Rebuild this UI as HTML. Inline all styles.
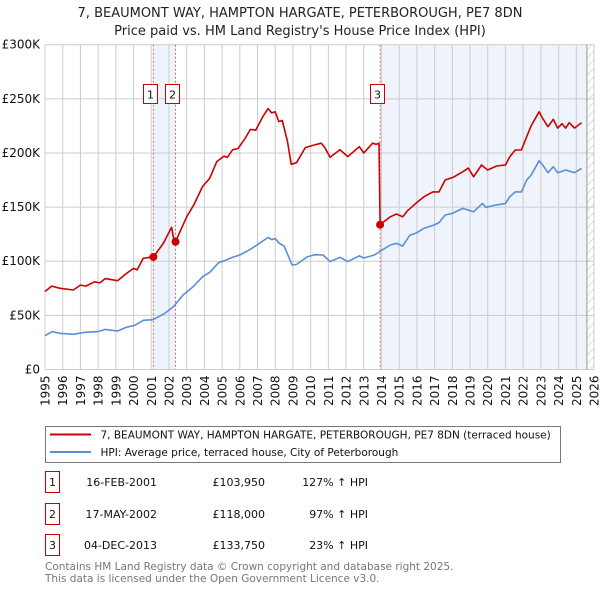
<!DOCTYPE html>
<html><head><meta charset="utf-8">
<style>
body{margin:0;background:#fff;width:600px;height:590px;overflow:hidden;font-family:"DejaVu Sans","Liberation Sans",sans-serif;}
svg{position:absolute;left:0;top:0}
text{font-family:"DejaVu Sans","Liberation Sans",sans-serif;}
</style></head><body>
<svg id="chart" width="600" height="590" xmlns="http://www.w3.org/2000/svg">
<defs>
<pattern id="hatch" width="6" height="6" patternUnits="userSpaceOnUse" patternTransform="rotate(45)">
<line x1="0" y1="0" x2="0" y2="6" stroke="#bbb" stroke-width="1"/>
</pattern>
</defs>
<text x="300" y="17" text-anchor="middle" font-size="13" fill="#222">7, BEAUMONT WAY, HAMPTON HARGATE, PETERBOROUGH, PE7 8DN</text>
<text x="300" y="35" text-anchor="middle" font-size="13" fill="#222">Price paid vs. HM Land Registry's House Price Index (HPI)</text>
<g id="plot"></g>
<g>
<rect x="45.5" y="426.5" width="515" height="36" fill="#fff" stroke="#777"/>
<line x1="50" y1="434.5" x2="91" y2="434.5" stroke="#cc0000" stroke-width="2"/>
<text x="100.5" y="438.5" font-size="10.5" fill="#111">7, BEAUMONT WAY, HAMPTON HARGATE, PETERBOROUGH, PE7 8DN (terraced house)</text>
<line x1="50" y1="452" x2="91" y2="452" stroke="#5b8fd4" stroke-width="2"/>
<text x="100.5" y="456" font-size="10.5" fill="#111">HPI: Average price, terraced house, City of Peterborough</text>
</g>
<g id="table" font-size="11" fill="#111"></g>
<text x="45" y="570" font-size="10.5" fill="#777">Contains HM Land Registry data © Crown copyright and database right 2025.</text>
<text x="45" y="582" font-size="10.5" fill="#777">This data is licensed under the Open Government Licence v3.0.</text>
</svg>
<script>
const propYears=[1995.0,1995.38,1995.85,1996.6,1997.0,1997.3,1997.8,1998.1,1998.4,1999.1,1999.6,2000.0,2000.2,2000.55,2000.93,2001.12,2001.68,2002.15,2002.25,2002.37,2003.0,2003.4,2003.9,2004.3,2004.7,2005.1,2005.3,2005.6,2005.9,2006.3,2006.6,2006.9,2007.3,2007.6,2007.8,2008.0,2008.2,2008.4,2008.7,2008.9,2009.2,2009.7,2010.2,2010.6,2010.8,2011.1,2011.65,2012.1,2012.75,2013.0,2013.5,2013.7,2013.86,2013.92,2014.5,2014.85,2015.2,2015.5,2015.98,2016.4,2016.9,2017.25,2017.6,2018.05,2018.6,2018.9,2019.2,2019.65,2020.0,2020.5,2021.0,2021.25,2021.55,2021.9,2022.2,2022.45,2022.9,2023.1,2023.4,2023.7,2023.95,2024.2,2024.4,2024.6,2024.9,2025.3];
const propValues=[72,77,75,73.4,78,77,81,80,84,82,88.8,93.4,92,102.7,103.6,103.95,116.5,131.3,122,118,141,152,169,176.6,192,197,196,203,204,213.5,221.8,221,233.5,241,237,238,229,230,210,189.5,191,205,207.4,209,205,196,203,196.6,205.8,200,209,208,209,133.75,141,143.6,141,147,154,159.6,164,164,175,177.5,182.7,186,178,188.9,184.3,188,189,196.6,202.7,202.7,215,225,238,232,224.3,231,223,227,223,228,223,228];
const hpiYears=[1995.0,1995.4,1995.85,1996.6,1997.2,1998.0,1998.4,1999.1,1999.6,2000.1,2000.55,2001.1,2001.7,2002.25,2002.8,2003.4,2003.9,2004.3,2004.8,2005.2,2005.6,2006.0,2006.6,2007.1,2007.6,2007.8,2008.0,2008.2,2008.5,2008.95,2009.2,2009.8,2010.25,2010.7,2011.1,2011.65,2012.1,2012.75,2013.0,2013.6,2013.9,2014.5,2014.85,2015.2,2015.6,2016.0,2016.4,2016.97,2017.25,2017.6,2018.0,2018.6,2019.2,2019.7,2019.9,2020.5,2021.0,2021.25,2021.55,2021.9,2022.2,2022.45,2022.9,2023.1,2023.4,2023.7,2023.95,2024.4,2024.9,2025.3];
const hpiValues=[31.2,35,33.4,32.5,34.3,35,37,35.6,39,41,45.4,46,51.2,58,68.8,77,85.7,89.7,98.6,101,103.6,105.8,111,116.5,122,120,121,116.8,114,96.5,97,104,106,105.8,99.7,103.6,99.7,105,103,105.8,109,115,116.5,114,124,126.4,130.4,133.5,135.7,142.7,144.2,148.8,145.7,153.4,149.8,152,153.4,159.6,164,164,175,179.5,192.8,189,181.8,187.3,181.8,184.3,181.8,185.7];
const saleYears=[2001.12,2002.37,2013.92];
const salePrices=[103.95,118,133.75];
const saleLabels=["1","2","3"];
const saleDates=["16-FEB-2001","17-MAY-2002","04-DEC-2013"];
const salePriceText=["£103,950","£118,000","£133,750"];
const saleHpiText=["127% ↑ HPI","97% ↑ HPI","23% ↑ HPI"];
const yTicks=[0,50,100,150,200,250,300];
const yTickLabels=["£0","£50K","£100K","£150K","£200K","£250K","£300K"];
const xTicks=[1995,1996,1997,1998,1999,2000,2001,2002,2003,2004,2005,2006,2007,2008,2009,2010,2011,2012,2013,2014,2015,2016,2017,2018,2019,2020,2021,2022,2023,2024,2025,2026];
const dataEnd=2025.6;

const NS="http://www.w3.org/2000/svg";
const X0=45,X1=594,Y0=369.5,Y1=44.7;
function xs(y){return X0+(y-1995)/(2026-1995)*(X1-X0);}
function ys(v){return Y0-v/300*(Y0-Y1);}
function mk(tag,attrs,parent){const e=document.createElementNS(NS,tag);for(const k in attrs)e.setAttribute(k,attrs[k]);parent.appendChild(e);return e;}
const plot=document.getElementById('plot');

let r=mk('rect',{x:xs(saleYears[0]),y:Y1,width:xs(saleYears[1])-xs(saleYears[0]),height:Y0-Y1,fill:'#eef3fc'},plot);


r=mk('rect',{x:xs(saleYears[2]),y:Y1,width:xs(dataEnd)-xs(saleYears[2]),height:Y0-Y1,fill:'#eef3fc'},plot);


r=mk('rect',{x:xs(dataEnd),y:Y1,width:X1-xs(dataEnd),height:Y0-Y1,fill:'url(#hatch)'},plot);



xTicks.forEach(t=>{
  const l=mk('line',{x1:xs(t),x2:xs(t),y1:Y1,y2:Y0,stroke:'#ccc','stroke-width':1},plot);
  
  
  const tx=mk('text',{x:0,y:0,'font-size':12,fill:'#111','text-anchor':'end',transform:`translate(${xs(t)+4.5},${Y0+6}) rotate(-90)`},plot);
  tx.textContent=t;
  
  
});
yTicks.forEach((t,i)=>{
  const l=mk('line',{x1:X0,x2:X1,y1:ys(t),y2:ys(t),stroke:'#ccc','stroke-width':1},plot);
  
  
  const tx=mk('text',{x:40,y:ys(t)+4,'font-size':12,fill:'#111','text-anchor':'end'},plot);
  tx.textContent=yTickLabels[i];
  
  
});
let ln=mk('line',{x1:xs(dataEnd),x2:xs(dataEnd),y1:Y1,y2:Y0,stroke:'#999','stroke-width':1},plot);



const boxX=[143.5,165.5,370.5];
saleYears.forEach((s,i)=>{
  const l=mk('line',{x1:xs(s),x2:xs(s),y1:Y1,y2:Y0,stroke:'#e06666','stroke-width':1,'stroke-dasharray':'2,2'},plot);
  
  
  const b=mk('rect',{x:boxX[i],y:84.5,width:14,height:19,fill:'#fff',stroke:'#cc0000'},plot);
  
  
  const t=mk('text',{x:boxX[i]+7,y:98.5,'font-size':11,fill:'#111','text-anchor':'middle'},plot);
  t.textContent=saleLabels[i];
  
  
});

function path(xa,va,color,name){
  const d=xa.map((x,i)=>(i?'L':'M')+xs(x).toFixed(1)+','+ys(va[i]).toFixed(1)).join('');
  const p=mk('path',{d:d,fill:'none',stroke:color,'stroke-width':1.6,'stroke-linejoin':'round'},plot);
  
  
}
path(hpiYears,hpiValues,'#5b8fd4','hpi-line');
path(propYears,propValues,'#cc0000','property-line');
saleYears.forEach((s,i)=>{
  const c=mk('circle',{cx:xs(s),cy:ys(salePrices[i]),r:4,fill:'#cc0000'},plot);
  
  
});

const tb=document.getElementById('table');
const rowY=[482,514,545];
saleLabels.forEach((lab,i)=>{
  const y=rowY[i];
  const b=mk('rect',{x:45.5,y:y-10.5,width:14,height:21,fill:'#fff',stroke:'#cc0000'},tb);
  
  
  let t=mk('text',{x:52.5,y:y+4,'text-anchor':'middle'},tb);t.textContent=lab;
  
  
  t=mk('text',{x:157,y:y+4,'text-anchor':'end'},tb);t.textContent=saleDates[i];
  
  
  t=mk('text',{x:265,y:y+4,'text-anchor':'end'},tb);t.textContent=salePriceText[i];
  
  
  t=mk('text',{x:368,y:y+4,'text-anchor':'end'},tb);t.textContent=saleHpiText[i];
  
  
});
</script>
</body></html>
